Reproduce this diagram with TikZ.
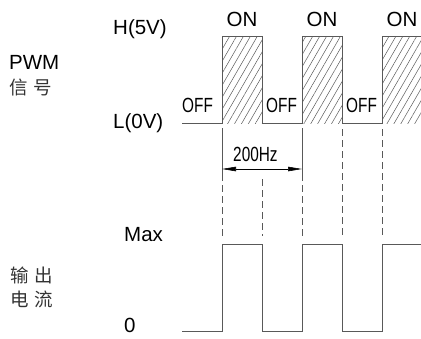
\documentclass[tikz,border=0pt]{standalone}
\usepackage{fontspec}
\setmainfont{Liberation Sans}
\newfontfamily\cjk{Noto Sans CJK SC}
\usetikzlibrary{arrows.meta,patterns.meta}

\tikzset{
  wave/.style={draw=black!65, line width=0.7pt},
  guide/.style={draw=black!65, line width=0.6pt, dash pattern=on 7pt off 4pt},
  ext/.style={draw=black!65, line width=0.6pt},
  hatch/.style={pattern={Lines[angle=60,distance=6pt,line width=0.5pt]}, pattern color=black!65},
  dim/.style={draw=black, line width=0.6pt, {Triangle[length=14pt,width=4.5pt]}-{Triangle[length=14pt,width=4.5pt]}},
  lbl/.style={inner sep=0pt, anchor=base west, font=\fontsize{20.5}{23}\selectfont},
  cjklbl/.style={inner sep=0pt, anchor=base west, text=black!80, font=\cjk\fontsize{18.5}{21}\selectfont}
}
\newcommand{\narrow}[1]{\scalebox{0.75}[1]{#1}}

\begin{document}
\begin{tikzpicture}[x=1pt,y=-1pt]
\useasboundingbox (0,0) rectangle (421,338);

\node (pwm) at (9,69) [lbl] {PWM};
\node (sig) at (9,94) [cjklbl] {信\hspace{6pt}号};
\node (out1) at (10,282) [cjklbl] {输\hspace{6pt}出};
\node (out2) at (10,306) [cjklbl] {电\hspace{6pt}流};

\node (high) at (113,34) [lbl] {H(5V)};
\node (low) at (113,128) [lbl] {L(0V)};
\node (max) at (124,241) [lbl] {Max};
\node (zero) at (124,332) [lbl] {0};

\node (on1) at (242,26) [lbl, anchor=base] {ON};
\node (on2) at (322,26) [lbl, anchor=base] {ON};
\node (on3) at (402,26) [lbl, anchor=base] {ON};
\node (off1) at (182,112) [lbl] {\narrow{OFF}};
\node (off2) at (266,112) [lbl] {\narrow{OFF}};
\node (off3) at (346,112) [lbl] {\narrow{OFF}};

\fill [hatch] (222,36) rectangle (262,123);
\fill [hatch] (302,36) rectangle (342,123);
\fill [hatch] (382,36) rectangle (421,123);
\draw [wave] (182,123) -- (222,123) -- (222,36) -- (262,36) -- (262,123) -- (302,123) -- (302,36) -- (342,36) -- (342,123) -- (382,123) -- (382,36) -- (421,36);

\draw [ext] (222,128) -- (222,174);
\draw [ext] (302,128) -- (302,174);
\draw [guide] (222,174) -- (222,236);
\draw [guide] (302,174) -- (302,236);
\draw [guide] (262,179) -- (262,236);
\draw [guide] (342,129) -- (342,236);
\draw [guide] (382,129) -- (382,236);

\coordinate (f1) at (222,169);
\coordinate (f2) at (302,169);
\draw [dim] (f1) -- (f2);
\node (freq) at (233,161) [lbl] {\narrow{200Hz}};

\draw [wave] (182,331) -- (222,331) -- (222,244) -- (262,244) -- (262,331) -- (302,331) -- (302,244) -- (342,244) -- (342,331) -- (382,331) -- (382,244) -- (421,244);

\end{tikzpicture}
\end{document}
